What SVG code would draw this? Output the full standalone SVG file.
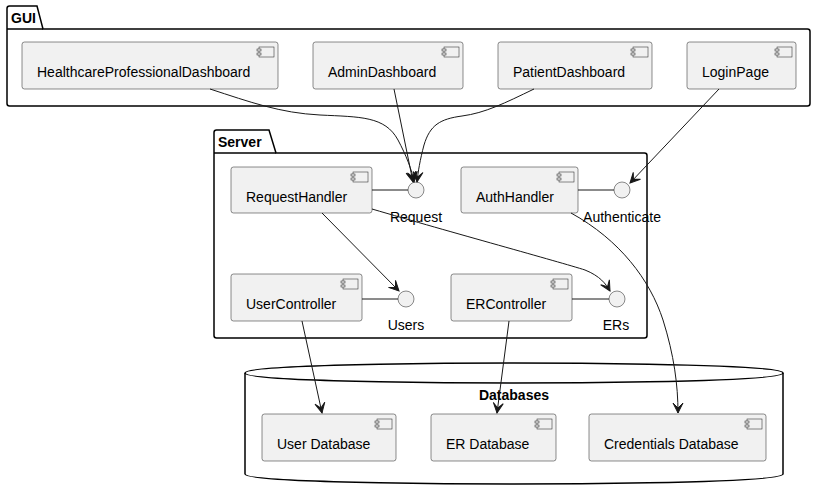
<svg xmlns="http://www.w3.org/2000/svg" width="817" height="493" viewBox="0 0 817 493">
<style>
.pkg{fill:#FFFFFF;stroke:#000000;stroke-width:1.5}
.pname{font-family:"Liberation Sans",Arial,sans-serif;font-size:14px;font-weight:bold;fill:#000000}
.comp{fill:#F1F1F1;stroke:#181818;stroke-width:0.5}
.icon{fill:#F1F1F1;stroke:#181818;stroke-width:0.5}
.lbl{font-family:"Liberation Sans",Arial,sans-serif;font-size:14px;fill:#000000}
.ilbl{font-family:"Liberation Sans",Arial,sans-serif;font-size:14px;fill:#000000;text-anchor:middle}
.iface{fill:#F1F1F1;stroke:#181818;stroke-width:0.5}
.link{fill:none;stroke:#181818;stroke-width:1}
.arr{fill:none;stroke:#181818;stroke-width:1;marker-end:url(#ah)}
</style>
<defs>
<marker id="ah" viewBox="-12 -6 13 12" refX="0" refY="0" markerWidth="13" markerHeight="12" markerUnits="userSpaceOnUse" orient="auto">
<path d="M0,0 L-10,-5 L-5,0 L-10,5 Z" fill="#181818" stroke="#181818" stroke-width="1" stroke-linejoin="miter"/>
</marker>
<g id="cicon">
<rect class="icon" x="-19" y="5" width="15" height="10"/>
<rect class="icon" x="-21" y="7" width="4" height="2"/>
<rect class="icon" x="-21" y="11" width="4" height="2"/>
</g>
</defs>

<g id="pkg-gui">
<path class="pkg" d="M7,8.5 Q7,6 9.5,6 L37,6 L43,29 L807.5,29 Q810,29 810,31.5 L810,103.5 Q810,106 807.5,106 L9.5,106 Q7,106 7,103.5 Z"/>
<line x1="7" y1="29" x2="43" y2="29" stroke="#000" stroke-width="1.5"/>
<text class="pname" x="11" y="23">GUI</text>
</g>

<g id="pkg-server">
<path class="pkg" d="M214,132.5 Q214,130 216.5,130 L269,130 L276,153 L644.5,153 Q647,153 647,155.5 L647,335.5 Q647,338 644.5,338 L216.5,338 Q214,338 214,335.5 Z"/>
<line x1="214" y1="153" x2="276" y2="153" stroke="#000" stroke-width="1.5"/>
<text class="pname" x="218" y="147">Server</text>
</g>

<g id="pkg-databases">
<path class="pkg" d="M245,373 C245,363 514,363 514,363 C514,363 783,363 783,373 L783,474 C783,484 514,484 514,484 C514,484 245,484 245,474 Z"/>
<path d="M245,373 C245,383 514,383 514,383 C514,383 783,383 783,373" fill="none" stroke="#000" stroke-width="1.5"/>
<text class="pname" x="514" y="400" text-anchor="middle">Databases</text>
</g>

<g id="HealthcareProfessionalDashboard">
<rect class="comp" x="22" y="42" width="256" height="47" rx="2.5"/>
<use href="#cicon" x="278" y="42"/>
<text class="lbl" x="37" y="77">HealthcareProfessionalDashboard</text>
</g>
<g id="AdminDashboard">
<rect class="comp" x="313" y="42" width="150" height="47" rx="2.5"/>
<use href="#cicon" x="463" y="42"/>
<text class="lbl" x="328" y="77">AdminDashboard</text>
</g>
<g id="PatientDashboard">
<rect class="comp" x="498" y="42" width="154" height="47" rx="2.5"/>
<use href="#cicon" x="652" y="42"/>
<text class="lbl" x="513" y="77">PatientDashboard</text>
</g>
<g id="LoginPage">
<rect class="comp" x="687" y="42" width="109" height="47" rx="2.5"/>
<use href="#cicon" x="796" y="42"/>
<text class="lbl" x="702" y="77">LoginPage</text>
</g>

<g id="RequestHandler">
<rect class="comp" x="231" y="167" width="141" height="46" rx="2.5"/>
<use href="#cicon" x="372" y="167"/>
<text class="lbl" x="246" y="202">RequestHandler</text>
</g>
<g id="AuthHandler">
<rect class="comp" x="461" y="167" width="117" height="46" rx="2.5"/>
<use href="#cicon" x="578" y="167"/>
<text class="lbl" x="476" y="202">AuthHandler</text>
</g>
<g id="UserController">
<rect class="comp" x="231" y="274" width="131" height="47" rx="2.5"/>
<use href="#cicon" x="362" y="274"/>
<text class="lbl" x="246" y="309">UserController</text>
</g>
<g id="ERController">
<rect class="comp" x="451" y="274" width="121" height="47" rx="2.5"/>
<use href="#cicon" x="572" y="274"/>
<text class="lbl" x="466" y="309">ERController</text>
</g>

<g id="Request">
<line class="link" x1="372" y1="190" x2="408" y2="190"/>
<circle class="iface" cx="416" cy="190" r="8"/>
<text class="ilbl" x="416" y="222">Request</text>
</g>
<g id="Authenticate">
<line class="link" x1="578" y1="190" x2="614" y2="190"/>
<circle class="iface" cx="622" cy="190" r="8"/>
<text class="ilbl" x="622" y="222">Authenticate</text>
</g>
<g id="Users">
<line class="link" x1="362" y1="299" x2="398" y2="299"/>
<circle class="iface" cx="406" cy="299" r="8"/>
<text class="ilbl" x="406" y="330">Users</text>
</g>
<g id="ERs">
<line class="link" x1="572" y1="299" x2="609" y2="299"/>
<circle class="iface" cx="617" cy="299" r="8"/>
<text class="ilbl" x="616" y="330">ERs</text>
</g>

<g id="UserDatabase">
<rect class="comp" x="262" y="414" width="134" height="47" rx="2.5"/>
<use href="#cicon" x="396" y="414"/>
<text class="lbl" x="277" y="449">User Database</text>
</g>
<g id="ERDatabase">
<rect class="comp" x="431" y="414" width="125" height="47" rx="2.5"/>
<use href="#cicon" x="556" y="414"/>
<text class="lbl" x="446" y="449">ER Database</text>
</g>
<g id="CredentialsDatabase">
<rect class="comp" x="589" y="414" width="177" height="47" rx="2.5"/>
<use href="#cicon" x="766" y="414"/>
<text class="lbl" x="604" y="449">Credentials Database</text>
</g>

<g id="connectors">
<path class="arr" d="M210,89 C250,102 280,113 320,115 C360,117 385,116 398,140 C406,155 412,170 414,182"/>
<path class="arr" d="M394,89 L413,182"/>
<path class="arr" d="M534,89 C505,103 485,113 462,116 C440,119 430,125 424,145 C420,160 418,172 417,182"/>
<path class="arr" d="M719,89 L630,183"/>
<path class="arr" d="M322,213 L399,291"/>
<path class="arr" d="M372,209 C450,232 560,262 585,270 C600,276 606,284 610,291"/>
<path class="arr" d="M571,213 C620,240 650,280 663,320 C674,355 678,385 678,413"/>
<path class="arr" d="M302,321 L322,413"/>
<path class="arr" d="M509,321 L497,413"/>
</g>
</svg>
